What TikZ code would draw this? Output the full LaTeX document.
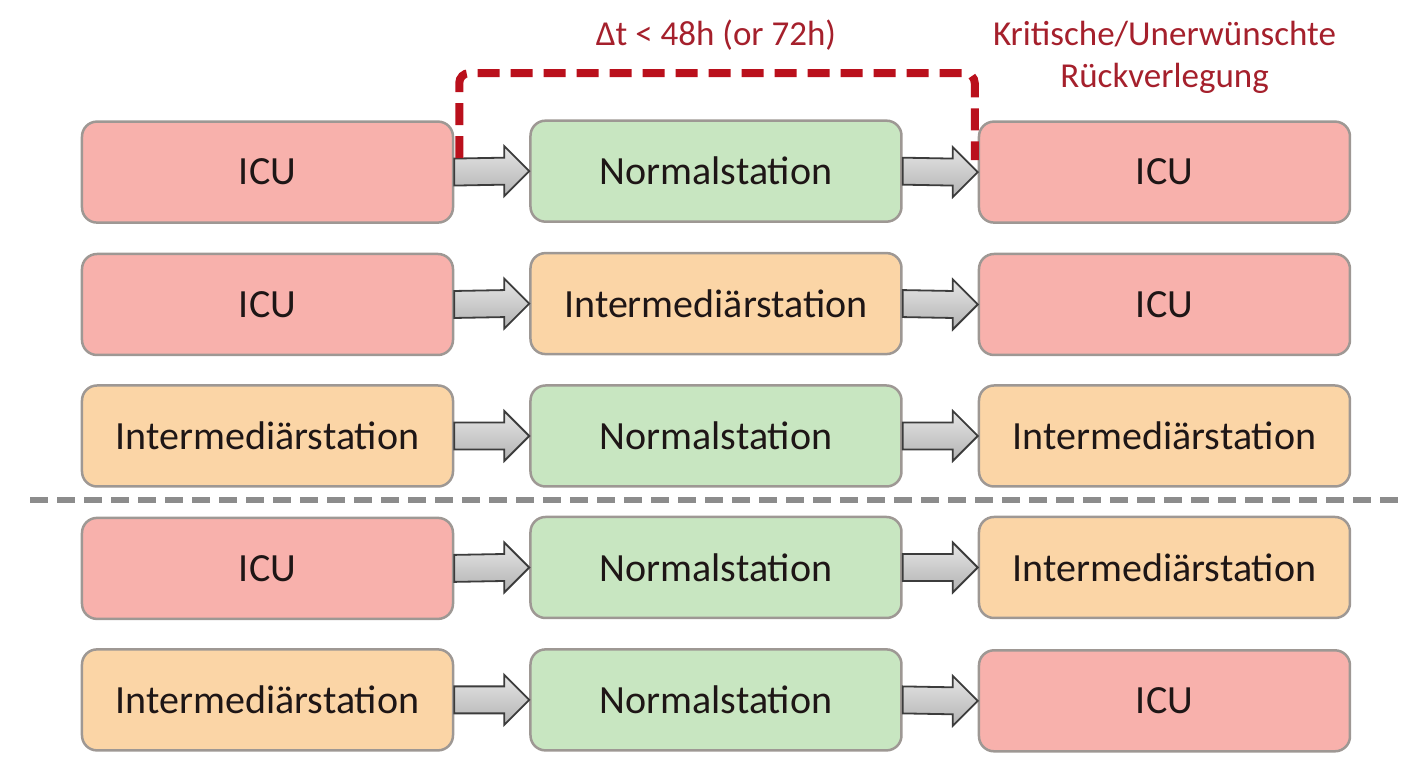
\documentclass[tikz,border=0pt]{standalone}
\usepackage{fontspec}
\setmainfont{Carlito}
\usepackage{tikz}
\usetikzlibrary{matrix, positioning, calc}

\definecolor{icured}{RGB}{248,177,172}
\definecolor{normalgreen}{RGB}{200,230,193}
\definecolor{imcorange}{RGB}{251,213,166}
\definecolor{boxline}{RGB}{158,152,148}
\definecolor{boxtext}{RGB}{30,22,22}
\definecolor{backred}{RGB}{186,16,28}
\definecolor{labelred}{RGB}{165,32,44}
\definecolor{sepgray}{RGB}{140,140,140}
\definecolor{arrowline}{RGB}{60,60,60}

\tikzset{
    station/.style={rectangle, rounded corners=7.5pt, draw=boxline, line width=1.25pt,
        minimum width=185.5pt, minimum height=50.5pt, inner sep=0pt,
        text=boxtext, font=\fontsize{20}{24}\selectfont},
    icu/.style={fill=icured},
    normal/.style={fill=normalgreen},
    imc/.style={fill=imcorange},
    fatarrow/.style={draw=arrowline, line width=0.9pt, line join=miter,
        top color=white!90!black, bottom color=black!30},
    backline/.style={draw=backred, line width=4pt, dash pattern=on 11pt off 5.5pt,
        rounded corners=5pt},
    sepline/.style={draw=sepgray, line width=3pt, dash pattern=on 9pt off 4.5pt},
    lbl/.style={text=labelred, font=\fontsize{17.5}{21}\selectfont, align=center, inner sep=0pt}
}

\begin{document}
\begin{tikzpicture}[x=0.5pt, y=0.5pt]
        \useasboundingbox (0,0) rectangle (1404,758);

        \matrix (m) [matrix of nodes, column sep=37.5pt, row sep=14pt, nodes={station}] at (716,322)
        {
        |[icu]| ICU & |[normal]| Normalstation & |[icu]| ICU \\
        |[icu]| ICU & |[imc]| Intermediärstation & |[icu]| ICU \\
        |[imc]| Intermediärstation & |[normal]| Normalstation & |[imc]| Intermediärstation \\
        |[icu]| ICU & |[normal]| Normalstation & |[imc]| Intermediärstation \\
        |[imc]| Intermediärstation & |[normal]| Normalstation & |[icu]| ICU \\
        };

        % Block arrows between the stations
        \foreach \r in {1,...,5}
        {
        \foreach \c/\d in {1/2,2/3}
        {
        \draw [fatarrow] ([yshift=6.75pt]m-\r-\c.east) -- ([xshift=-12.5pt,yshift=6.75pt]m-\r-\d.west)
            -- ([xshift=-12.5pt,yshift=12.5pt]m-\r-\d.west) -- (m-\r-\d.west)
            -- ([xshift=-12.5pt,yshift=-12.5pt]m-\r-\d.west) -- ([xshift=-12.5pt,yshift=-6.75pt]m-\r-\d.west)
            -- ([yshift=-6.75pt]m-\r-\c.east) -- cycle;
        }
        }

        % Time window over the first row
        \draw [backline] ([xshift=2.5pt,yshift=7pt]m-1-1.east) -- ++(0,42.5pt) -| ([xshift=-1.5pt,yshift=6pt]m-1-3.west);
        \node [lbl] (dt) at ([yshift=42pt]m-1-2.north) {Δt < 48h (or 72h)};
        \node [lbl] (rv) at ([yshift=31.5pt]m-1-3.north) {Kritische/Unerwünschte\\Rückverlegung};

        % Separator between the two groups
        \draw [sepline] (30,258) -- (1404,258);
\end{tikzpicture}
\end{document}
